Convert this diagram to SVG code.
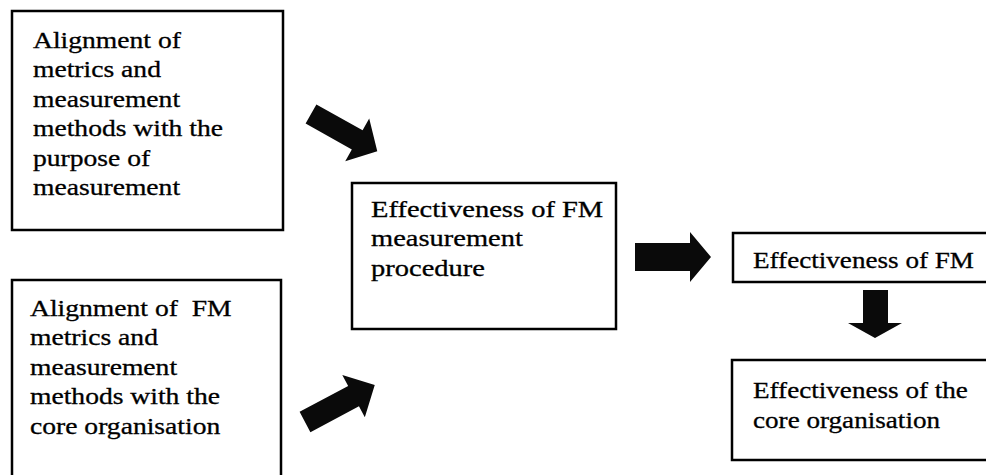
<svg xmlns="http://www.w3.org/2000/svg" width="986" height="475" viewBox="0 0 986 475">
  <style>
    .box { fill: #fff; stroke: #000; stroke-width: 2.5; }
    .lbl { font-family: "Liberation Serif", "Times New Roman", serif; font-size: 23px; fill: #000; stroke: #000; stroke-width: 0.3; }
    .arrow { fill: #0a0a0a; }
  </style>
  <rect width="986" height="475" fill="#fff"/>

  <g id="node-alignment-purpose">
    <rect class="box" x="12" y="11" width="271" height="219"/>
    <g transform="translate(33,0) scale(1.2,1)">
      <text class="lbl" x="0" y="48">Alignment of</text>
      <text class="lbl" x="0" y="77.5">metrics and</text>
      <text class="lbl" x="0" y="107">measurement</text>
      <text class="lbl" x="0" y="136.5">methods with the</text>
      <text class="lbl" x="0" y="166">purpose of</text>
      <text class="lbl" x="0" y="195.5">measurement</text>
    </g>
  </g>

  <g id="node-alignment-core">
    <rect class="box" x="12" y="280" width="269" height="210"/>
    <g transform="translate(30,0) scale(1.2,1)">
      <text class="lbl" x="0" y="316" xml:space="preserve">Alignment of  FM</text>
      <text class="lbl" x="0" y="345.5">metrics and</text>
      <text class="lbl" x="0" y="375">measurement</text>
      <text class="lbl" x="0" y="404.5">methods with the</text>
      <text class="lbl" x="0" y="434">core organisation</text>
    </g>
  </g>

  <g id="node-measurement-procedure">
    <rect class="box" x="352" y="183" width="264" height="146"/>
    <g transform="translate(371,0) scale(1.24,1)">
      <text class="lbl" x="0" y="217">Effectiveness of FM</text>
      <text class="lbl" x="0" y="246.5">measurement</text>
      <text class="lbl" x="0" y="276">procedure</text>
    </g>
  </g>

  <g id="node-fm">
    <rect class="box" x="733" y="233" width="260" height="49"/>
    <g transform="translate(753,0) scale(1.18,1)">
      <text class="lbl" x="0" y="268">Effectiveness of FM</text>
    </g>
  </g>

  <g id="node-core">
    <rect class="box" x="732" y="360" width="262" height="100"/>
    <g transform="translate(753,0) scale(1.18,1)">
      <text class="lbl" x="0" y="398">Effectiveness of the</text>
      <text class="lbl" x="0" y="428">core organisation</text>
    </g>
  </g>

  <g id="connectors">
    <!-- block arrows: shaft then triangular head, drawn along +x and placed by transform -->
    <polygon class="arrow" transform="translate(311,114) rotate(29.3)" points="0,-11 53,-11 53,-24.5 76,0 53,24.5 53,11 0,11"/>
    <polygon class="arrow" transform="translate(305,422) rotate(-28)" points="0,-11.5 55,-11.5 55,-24 79,0 55,24 55,11.5 0,11.5"/>
    <polygon class="arrow" points="635,243 690,243 690,232 711,257 690,282 690,271 635,271"/>
    <polygon class="arrow" points="863,290 888,290 888,323 902,323 875,338 848,323 863,323"/>
  </g>
</svg>
